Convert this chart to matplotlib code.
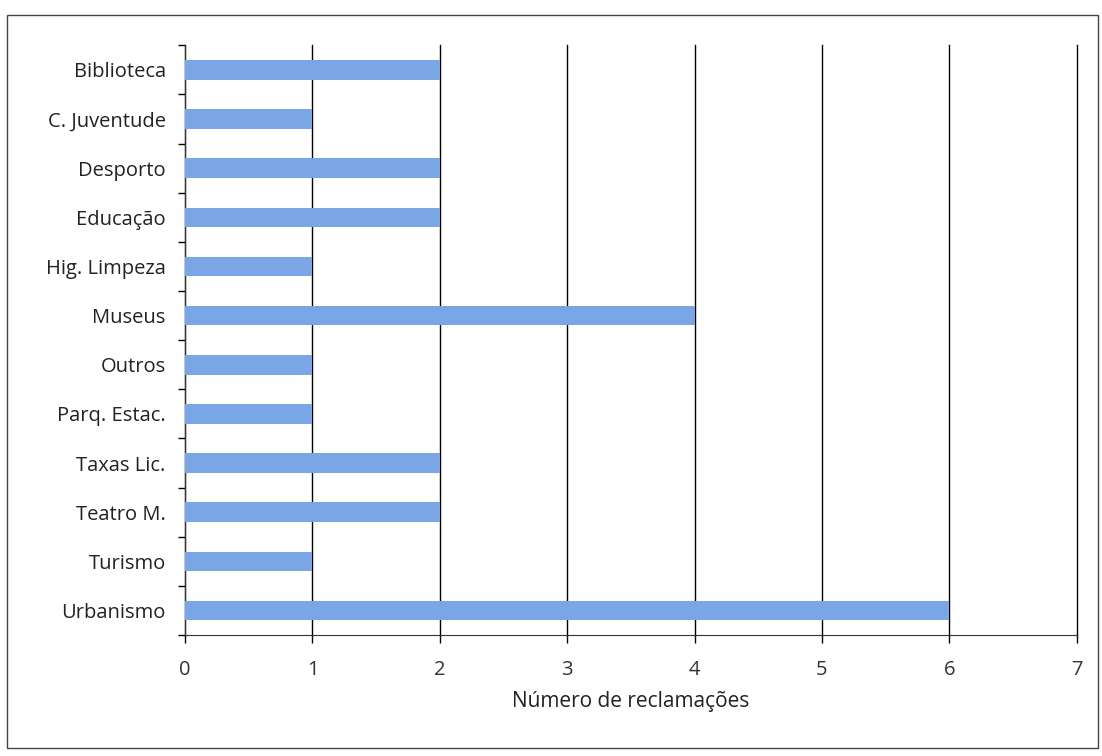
import matplotlib.pyplot as plt
import numpy as np
from matplotlib.patches import Rectangle

# data
categories = ['Biblioteca', 'C. Juventude', 'Desporto', 'Educação', 'Hig. Limpeza', 'Museus',
              'Outros', 'Parq. Estac.', 'Taxas Lic.', 'Teatro M.', 'Turismo', 'Urbanismo']
counts = [2, 1, 2, 2, 1, 4, 1, 1, 2, 2, 1, 6]
x_ticks = [0, 1, 2, 3, 4, 5, 6, 7]

plt.rcParams['font.family'] = ['Open Sans', 'DejaVu Sans']

fig = plt.figure(figsize=(11.02, 7.56), dpi=100)
ax = fig.add_axes([0.168, 0.160, 0.809, 0.780])

y = np.arange(len(categories))
ax.barh(y, counts, height=0.4, color='#7aa6e6', zorder=3)

ax.set_xlim(0, 7)
ax.set_ylim(len(categories) - 0.5, -0.5)
ax.set_xticks(x_ticks)
ax.set_yticks(y)
ax.set_yticklabels(categories)
ax.set_yticks(np.arange(len(categories) + 1) - 0.5, minor=True)
ax.tick_params(axis='y', which='major', length=0, pad=14, labelsize=14.5, colors='#222222')
ax.tick_params(axis='y', which='minor', length=5, direction='out', width=1)
ax.tick_params(axis='x', length=6, direction='out', width=1, labelsize=14.5, pad=12,
               colors='black', labelcolor='#333333')

ax.grid(axis='x', color='black', linewidth=1, zorder=0)
for line in ax.get_xgridlines():
    line.set_clip_on(False)
for s in ['top', 'right']:
    ax.spines[s].set_visible(False)
ax.spines['left'].set_color('#333333')
ax.spines['bottom'].set_color('#333333')

ax.set_xlabel('Número de reclamações', fontsize=15, labelpad=8, color='#222222')

# outer frame
fig.patches.append(Rectangle((0.006, 0.01), 0.99, 0.97, transform=fig.transFigure,
                             fill=False, edgecolor='#444444', linewidth=1))

fig.savefig('out.png', dpi=100)
